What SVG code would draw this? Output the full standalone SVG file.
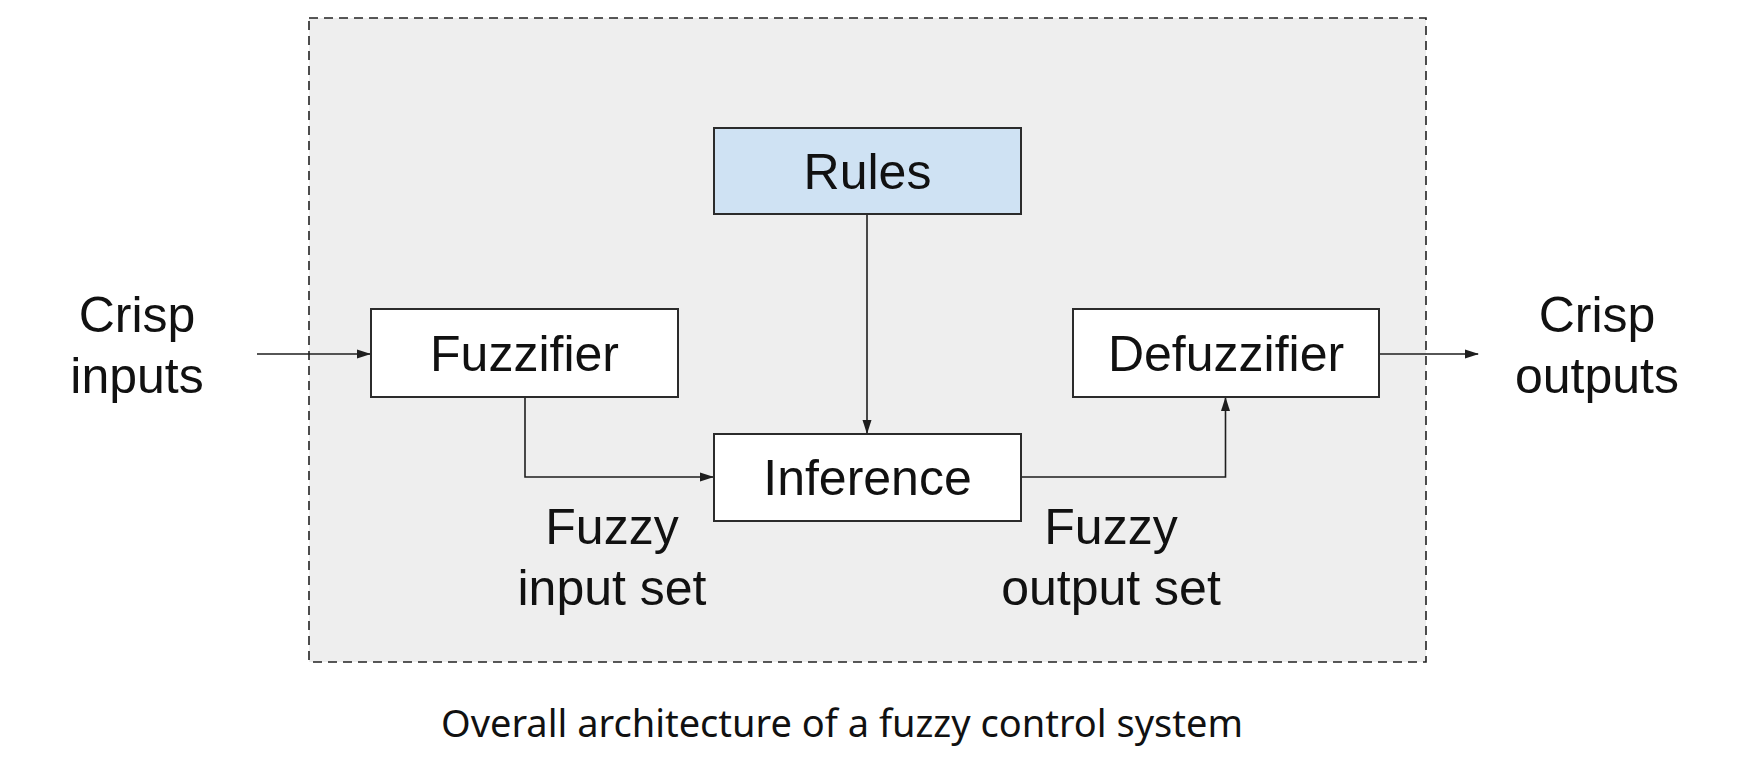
<svg xmlns="http://www.w3.org/2000/svg" width="1760" height="758" viewBox="0 0 1760 758">
<style>
.box{fill:#ffffff;stroke:#2b2b2b;stroke-width:2}
.lbl{font-family:"Liberation Sans",Arial,sans-serif;font-size:50px;fill:#111;text-anchor:middle}
.conn{fill:none;stroke:#1e1e1e;stroke-width:1.6}
.cap{font-family:"Noto Sans","Open Sans",sans-serif;font-size:38px;fill:#111}
</style>
<defs>
<marker id="ah" viewBox="0 0 14 10" refX="13" refY="5" markerWidth="14" markerHeight="10" markerUnits="userSpaceOnUse" orient="auto">
<path d="M0,0.5 L14,5 L0,9.5 z" fill="#1e1e1e"/>
</marker>
</defs>
<rect width="1760" height="758" fill="#ffffff"/>
<g id="container">
<rect x="309" y="18" width="1117" height="644" fill="#eeeeee" stroke="#222" stroke-width="1.6" stroke-dasharray="9 6"/>
</g>
<g id="connectors">
<line class="conn" x1="257" y1="354" x2="370" y2="354" marker-end="url(#ah)"/>
<polyline class="conn" points="525,397 525,477 713,477" marker-end="url(#ah)"/>
<line class="conn" x1="867" y1="214" x2="867" y2="433" marker-end="url(#ah)"/>
<polyline class="conn" points="1021,477 1225.5,477 1225.5,398" marker-end="url(#ah)"/>
<line class="conn" x1="1379" y1="354" x2="1478" y2="354" marker-end="url(#ah)"/>
</g>
<g id="rules">
<rect x="714" y="128" width="307" height="86" fill="#cfe2f3" stroke="#2b2b2b" stroke-width="2"/>
<text class="lbl" x="867.5" y="188.5">Rules</text>
</g>
<g id="fuzzifier">
<rect class="box" x="371" y="309" width="307" height="88"/>
<text class="lbl" x="524.5" y="371">Fuzzifier</text>
</g>
<g id="inference">
<rect class="box" x="714" y="434" width="307" height="87"/>
<text class="lbl" x="867.5" y="495">Inference</text>
</g>
<g id="defuzzifier">
<rect class="box" x="1073" y="309" width="306" height="88"/>
<text class="lbl" x="1226" y="371">Defuzzifier</text>
</g>
<g id="crisp-inputs">
<text class="lbl" x="137" y="332">Crisp</text>
<text class="lbl" x="137" y="393">inputs</text>
</g>
<g id="crisp-outputs">
<text class="lbl" x="1597" y="332">Crisp</text>
<text class="lbl" x="1597" y="393">outputs</text>
</g>
<g id="fuzzy-input-set">
<text class="lbl" x="612" y="544">Fuzzy</text>
<text class="lbl" x="612" y="605">input set</text>
</g>
<g id="fuzzy-output-set">
<text class="lbl" x="1111" y="544">Fuzzy</text>
<text class="lbl" x="1111" y="605">output set</text>
</g>
<g id="caption">
<text class="cap" x="441" y="737" textLength="802" lengthAdjust="spacingAndGlyphs">Overall architecture of a fuzzy control system</text>
</g>
</svg>
